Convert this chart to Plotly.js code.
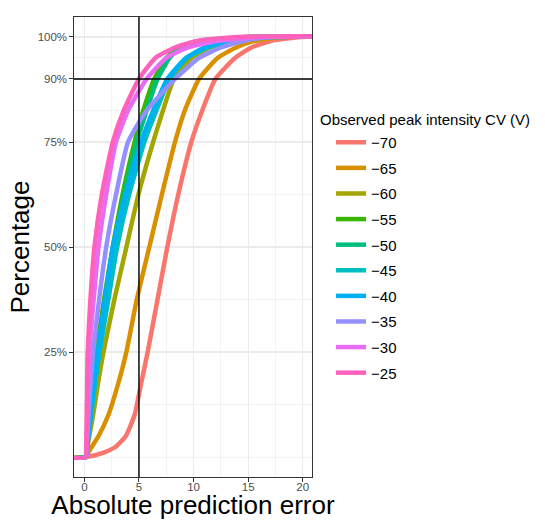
<!DOCTYPE html>
<html><head><meta charset="utf-8">
<script src="https://cdn.plot.ly/plotly-3.0.1.min.js"></script>
<style>html,body{margin:0;padding:0;background:#fff}</style>
</head><body><div id="chart" style="width:545px;height:520px"></div>
<script>
// Observed peak intensity CV levels (legend order)
const cvLevels = ["−70","−65","−60","−55","−50","−45","−40","−35","−30","−25"];
const cvColors = ["#F8766D","#D89000","#A3A500","#39B600","#00BF7D","#00BFC4","#00B0F6","#9590FF","#E76BF3","#FF62BC"];
// cumulative proportion grid (ECDF levels)
const probs = [0, 0.01, 0.025, 0.05, 0.1, 0.175, 0.25, 0.375, 0.5, 0.625, 0.75, 0.825, 0.9, 0.95, 0.975, 0.99, 1];
// absolute prediction error reached at each proportion, per CV
const errCV70 = [0.15, 1.7, 2.9, 3.8, 4.6, 5.2, 5.8, 6.7, 7.6, 8.6, 9.8, 10.8, 12.0, 13.8, 15.3, 17.0, 19.8];
const errCV65 = [0.15, 0.35, 0.7, 1.3, 2.2, 3.1, 3.85, 4.8, 5.95, 7.1, 8.3, 9.2, 10.5, 12.2, 13.9, 15.5, 18.0];
const errCV60 = [0.15, 0.2, 0.28, 0.45, 0.8, 1.25, 1.75, 2.75, 3.85, 4.95, 6.3, 7.2, 8.2, 9.8, 11.5, 13.5, 17.0];
const errCV55 = [0.15, 0.18, 0.22, 0.32, 0.52, 0.82, 1.12, 1.8, 2.6, 3.5, 4.6, 5.4, 6.4, 7.5, 8.7, 10.5, 15.0];
const errCV50 = [0.15, 0.18, 0.22, 0.33, 0.54, 0.85, 1.18, 1.9, 2.7, 3.65, 4.8, 5.7, 6.7, 7.8, 8.8, 10.5, 15.0];
const errCV45 = [0.15, 0.19, 0.25, 0.38, 0.62, 0.98, 1.4, 2.2, 3.0, 4.1, 5.5, 6.6, 7.8, 9.4, 11.3, 13.5, 17.0];
const errCV40 = [0.15, 0.18, 0.24, 0.36, 0.57, 0.88, 1.25, 1.9, 2.6, 3.8, 5.2, 6.3, 7.6, 9.3, 11.0, 13.0, 17.0];
const errCV35 = [0.15, 0.17, 0.2, 0.28, 0.38, 0.56, 0.8, 1.35, 2.0, 2.9, 4.0, 5.7, 8.3, 10.5, 12.5, 14.5, 17.0];
const errCV30 = [0.15, 0.16, 0.18, 0.22, 0.27, 0.35, 0.45, 0.85, 1.3, 2.0, 2.9, 4.0, 5.7, 7.5, 9.5, 12.0, 16.0];
const errCV25 = [0.15, 0.16, 0.17, 0.19, 0.22, 0.26, 0.3, 0.55, 0.92, 1.6, 2.6, 3.6, 5.0, 6.5, 8.3, 10.2, 14.0];
const errSeries = [errCV70, errCV65, errCV60, errCV55, errCV50, errCV45, errCV40, errCV35, errCV30, errCV25];
// reference lines
const refErr = 5;
const refPct = 0.9;
// ticks
const xTicks = [0, 5, 10, 15, 20];
const xMinor = [2.5, 7.5, 12.5, 17.5];
const yTicks = [0.25, 0.5, 0.75, 0.9, 1.0];
const yTickText = ["25%", "50%", "75%", "90%", "100%"];
const yMinor = [0, 0.125, 0.375, 0.625, 0.825, 0.95];
const padLo = -5, padHi = 40; // ECDF padding to -Inf / +Inf

const traces = cvLevels.map((lv, i) => ({
  type: 'scatter', mode: 'lines',
  x: [padLo].concat(errSeries[i], [padHi]),
  y: [0].concat(probs, [1]),
  name: lv,
  legendgroup: 'g' + i,
  line: {color: cvColors[i], width: 4.5, shape: 'spline', smoothing: 0.5},
  hoverinfo: 'x+y+name'
}));

const font = 'Liberation Sans, Arial, Helvetica, sans-serif';
const layout = {
  width: 545, height: 520,
  margin: {l: 74, r: 233, t: 17, b: 43},
  paper_bgcolor: '#fff', plot_bgcolor: '#fff',
  font: {family: font, color: '#000'},
  showlegend: true,
  legend: {x: 1.08, xanchor: 'left', y: 0.763, yanchor: 'top',
           font: {family: font, size: 15, color: '#000'},
           tracegroupgap: 3.1, bgcolor: 'rgba(0,0,0,0)'},
  xaxis: {
    range: [-0.95, 20.85], zeroline: false,
    tickmode: 'array', tickvals: xTicks,
    ticks: 'outside', ticklen: 3.5, tickcolor: '#333333', tickwidth: 1,
    ticklabelstandoff: -4,
    tickfont: {family: font, size: 11.5, color: '#4D4D4D'},
    showgrid: true, gridcolor: '#EBEBEB', gridwidth: 1.1,
    minor: {tickmode: 'array', tickvals: xMinor, showgrid: true, gridcolor: '#EBEBEB', gridwidth: 0.6, ticks: ''},
    showline: true, mirror: true, linecolor: '#333333', linewidth: 1.1,
    title: {text: 'Absolute prediction error', font: {family: font, size: 26, color: '#000'}, standoff: 3}
  },
  yaxis: {
    range: [-0.0476, 1.0476], zeroline: false,
    tickmode: 'array', tickvals: yTicks, ticktext: yTickText,
    ticks: 'outside', ticklen: 3.5, tickcolor: '#333333', tickwidth: 1,
    tickfont: {family: font, size: 11.5, color: '#4D4D4D'},
    showgrid: true, gridcolor: '#EBEBEB', gridwidth: 1.1,
    minor: {tickmode: 'array', tickvals: yMinor, showgrid: true, gridcolor: '#EBEBEB', gridwidth: 0.6, ticks: ''},
    showline: true, mirror: true, linecolor: '#333333', linewidth: 1.1,
    title: {text: 'Percentage', font: {family: font, size: 26, color: '#000'}, standoff: 0}
  },
  shapes: [
    {type: 'line', xref: 'x', yref: 'paper', x0: refErr, x1: refErr, y0: 0, y1: 1, line: {color: '#000', width: 1.4}},
    {type: 'line', xref: 'paper', yref: 'y', x0: 0, x1: 1, y0: refPct, y1: refPct, line: {color: '#000', width: 1.4}}
  ],
  annotations: [
    {text: 'Observed peak intensity CV (V)', xref: 'paper', yref: 'paper', x: 1.025, y: 0.778,
     xanchor: 'left', yanchor: 'middle', showarrow: false, font: {family: font, size: 15, color: '#000'}}
  ]
};
Plotly.newPlot('chart', traces, layout, {displayModeBar: false, staticPlot: true});
</script></body></html>
